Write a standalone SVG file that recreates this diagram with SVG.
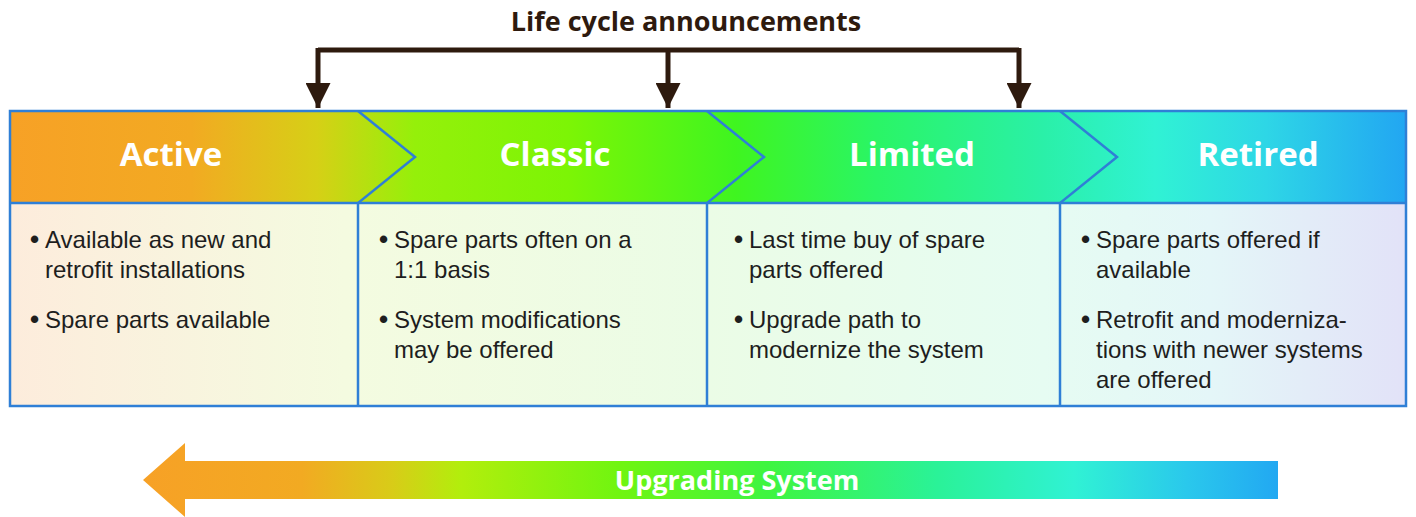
<svg xmlns="http://www.w3.org/2000/svg" width="1416" height="517" viewBox="0 0 1416 517">
<defs>
<linearGradient id="hdr" x1="10" y1="0" x2="1406" y2="0" gradientUnits="userSpaceOnUse">
<stop offset="0" stop-color="#f7a126"/>
<stop offset="0.13" stop-color="#f2aa22"/>
<stop offset="0.22" stop-color="#d6d016"/>
<stop offset="0.29" stop-color="#95f00a"/>
<stop offset="0.4" stop-color="#7cf505"/>
<stop offset="0.52" stop-color="#3ff520"/>
<stop offset="0.62" stop-color="#2af565"/>
<stop offset="0.74" stop-color="#2af0a8"/>
<stop offset="0.82" stop-color="#30f2d4"/>
<stop offset="0.9" stop-color="#2ed6e6"/>
<stop offset="1" stop-color="#22a6f2"/>
</linearGradient>
<linearGradient id="body" x1="10" y1="0" x2="1406" y2="0" gradientUnits="userSpaceOnUse">
<stop offset="0" stop-color="#fdecdc"/>
<stop offset="0.24" stop-color="#f4fbe0"/>
<stop offset="0.5" stop-color="#ebfce6"/>
<stop offset="0.74" stop-color="#e6fcf2"/>
<stop offset="0.86" stop-color="#e4f6f8"/>
<stop offset="1" stop-color="#e2e2f8"/>
</linearGradient>
<linearGradient id="bar" x1="143" y1="0" x2="1278" y2="0" gradientUnits="userSpaceOnUse">
<stop offset="0" stop-color="#f7a126"/>
<stop offset="0.14" stop-color="#f2aa22"/>
<stop offset="0.22" stop-color="#d8cc18"/>
<stop offset="0.28" stop-color="#b2ee0c"/>
<stop offset="0.42" stop-color="#70f510"/>
<stop offset="0.55" stop-color="#3ef540"/>
<stop offset="0.7" stop-color="#2af298"/>
<stop offset="0.82" stop-color="#30f2d4"/>
<stop offset="0.92" stop-color="#2ac8ec"/>
<stop offset="1" stop-color="#22a8f2"/>
</linearGradient>
<marker id="ah" viewBox="0 0 10 10" refX="10" refY="5" markerWidth="7" markerHeight="5" markerUnits="strokeWidth" orient="auto">
<path d="M0,0 L10,5 L0,10 Z" fill="#2e1a0e"/>
</marker>
<style>
.hl{font-family:"Open Sans","Liberation Sans",sans-serif;font-weight:bold;font-size:33px;fill:#ffffff;text-anchor:middle}
.tx{font-family:"Liberation Sans","Open Sans",sans-serif;font-size:24px;fill:#1e1e1e}
.bu{font-family:"Liberation Sans","Open Sans",sans-serif;font-size:26px;font-weight:bold;fill:#1e1e1e}
.bd{fill:none;stroke:#2f7fd6;stroke-width:2.5}
.con{fill:none;stroke:#2e1a0e;stroke-width:5}
</style>
</defs>

<text x="686" y="31" text-anchor="middle" font-family="Open Sans, Liberation Sans, sans-serif" font-weight="bold" font-size="27" fill="#2e1a0e">Life cycle announcements</text>

<g id="connectors">
<path class="con" d="M318,50 L1019,50"/>
<path class="con" d="M318,48 L318,108" marker-end="url(#ah)"/>
<path class="con" d="M668,48 L668,108" marker-end="url(#ah)"/>
<path class="con" d="M1019,48 L1019,108" marker-end="url(#ah)"/>
</g>

<rect x="10" y="111" width="1396" height="92" fill="url(#hdr)"/>
<rect x="10" y="203" width="1396" height="203" fill="url(#body)"/>

<g id="active">
<text class="hl" x="171" y="166">Active</text>
<text class="bu" x="30" y="248">•</text>
<text class="tx" x="45" y="248">Available as new and</text>
<text class="tx" x="45" y="278">retrofit installations</text>
<text class="bu" x="30" y="328">•</text>
<text class="tx" x="45" y="328">Spare parts available</text>
</g>
<g id="classic">
<text class="bu" x="379" y="248">•</text>
<text class="hl" x="555" y="166">Classic</text>
<text class="tx" x="394" y="248">Spare parts often on a</text>
<text class="tx" x="394" y="278">1:1 basis</text>
<text class="bu" x="379" y="328">•</text>
<text class="tx" x="394" y="328">System modifications</text>
<text class="tx" x="394" y="358">may be offered</text>
</g>
<g id="limited">
<text class="hl" x="912" y="166">Limited</text>
<text class="bu" x="734" y="248">•</text>
<text class="tx" x="749" y="248">Last time buy of spare</text>
<text class="tx" x="749" y="278">parts offered</text>
<text class="bu" x="734" y="328">•</text>
<text class="tx" x="749" y="328">Upgrade path to</text>
<text class="tx" x="749" y="358">modernize the system</text>
</g>
<g id="retired">
<text class="hl" x="1258" y="166">Retired</text>
<text class="bu" x="1081" y="248">•</text>
<text class="tx" x="1096" y="248">Spare parts offered if</text>
<text class="tx" x="1096" y="278">available</text>
<text class="bu" x="1081" y="328">•</text>
<text class="tx" x="1096" y="328">Retrofit and moderniza-</text>
<text class="tx" x="1096" y="358">tions with newer systems</text>
<text class="tx" x="1096" y="388">are offered</text>
</g>

<g id="borders">
<rect class="bd" x="10" y="111" width="1396" height="295"/>
<line class="bd" x1="10" y1="203" x2="1406" y2="203"/>
<path class="bd" d="M358,111 L415,157 L358,203 L358,406"/>
<path class="bd" d="M707,111 L764,157 L707,203 L707,406"/>
<path class="bd" d="M1060,111 L1117,157 L1060,203 L1060,406"/>
</g>

<g id="upgrading">
<path d="M143,480 L185,443 L185,461 L1278,461 L1278,499 L185,499 L185,517 Z" fill="url(#bar)"/>
<text x="737" y="490" text-anchor="middle" font-family="Open Sans, Liberation Sans, sans-serif" font-weight="bold" font-size="27" fill="#ffffff">Upgrading System</text>
</g>
</svg>
